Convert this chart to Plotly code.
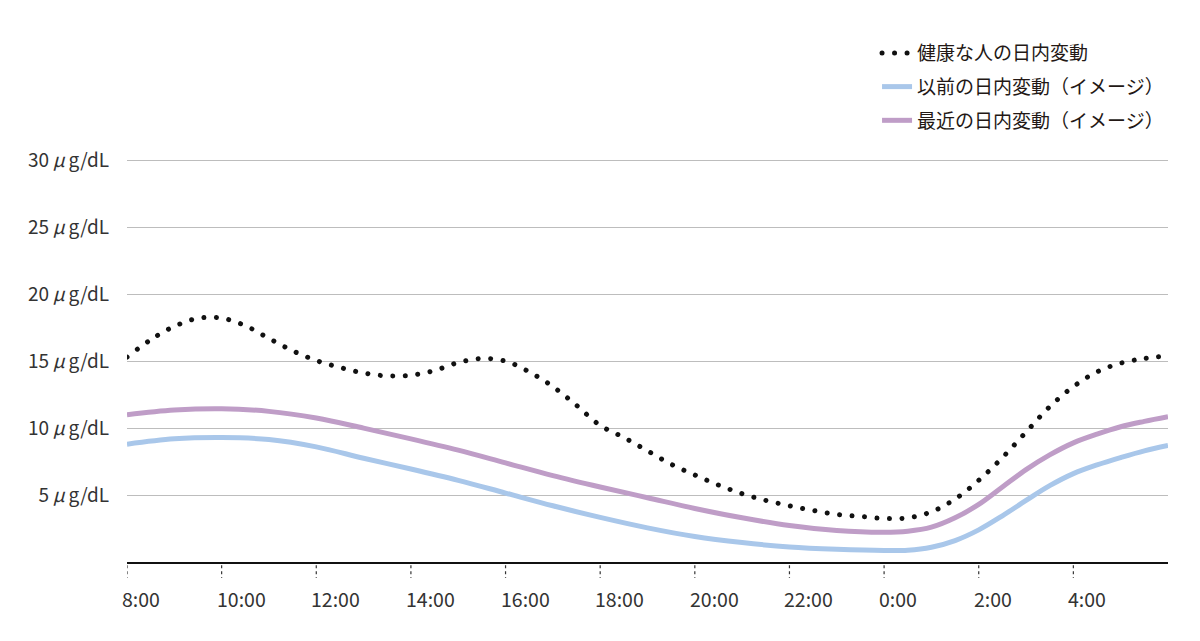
import plotly.graph_objects as go

# hours elapsed since 8:00
hours_h = [0, 0.5, 1, 1.5, 2, 2.5, 3, 3.5, 4, 4.5, 5, 5.5, 6, 6.5, 7, 7.5, 8, 8.5, 9, 9.5, 10,
           10.5, 11, 11.5, 12, 12.5, 13, 13.5, 14, 14.5, 15, 15.5, 16, 16.5, 17, 17.5, 18,
           18.5, 19, 19.5, 20, 20.5, 21, 21.5, 22]
healthy = [15.3, 16.6, 17.6, 18.2, 18.22, 17.65, 16.7, 15.78, 15.05, 14.53, 14.12, 13.9, 13.95,
           14.3, 14.9, 15.2, 15.0, 14.2, 13.1, 11.7, 10.2, 9.3, 8.3, 7.3, 6.5, 5.75, 5.1, 4.6,
           4.2, 3.85, 3.55, 3.4, 3.25, 3.3, 3.75, 4.7, 6.1, 7.8, 9.7, 11.6, 13.1, 14.2, 14.85,
           15.2, 15.4]

hours_p = [0, 1, 2, 3, 4, 5, 6, 7, 8, 9, 10, 11, 12, 13, 14, 15, 16, 16.5, 17, 17.5, 18,
           18.5, 19, 19.5, 20, 20.5, 21, 21.5, 22]
previous = [8.8, 9.2, 9.3, 9.15, 8.6, 7.75, 6.95, 6.1, 5.15, 4.2, 3.33, 2.55, 1.9, 1.45, 1.12,
            0.95, 0.86, 0.88, 1.1, 1.6, 2.4, 3.45, 4.6, 5.7, 6.6, 7.25, 7.8, 8.3, 8.7]
recent = [11.0, 11.35, 11.45, 11.25, 10.75, 10.0, 9.2, 8.35, 7.4, 6.45, 5.6, 4.8, 4.0, 3.3, 2.72,
          2.35, 2.22, 2.3, 2.6, 3.3, 4.3, 5.6, 6.9, 8.0, 8.9, 9.55, 10.1, 10.5, 10.85]

x_tickvals = [0, 2, 4, 6, 8, 10, 12, 14, 16, 18, 20]
x_ticktext = ["8:00", "10:00", "12:00", "14:00", "16:00", "18:00", "20:00", "22:00", "0:00", "2:00", "4:00"]
y_tickvals = [5, 10, 15, 20, 25, 30]
y_ticktext = ["5\u2009<i>μ</i>\u2009g/dL", "10\u2009<i>μ</i>\u2009g/dL", "15\u2009<i>μ</i>\u2009g/dL",
              "20\u2009<i>μ</i>\u2009g/dL", "25\u2009<i>μ</i>\u2009g/dL", "30\u2009<i>μ</i>\u2009g/dL"]

names = ["健康な人の日内変動", "以前の日内変動（イメージ）", "最近の日内変動（イメージ）"]
FONT = "Noto Sans CJK JP"

fig = go.Figure()
fig.add_trace(go.Scatter(x=hours_p, y=previous, mode="lines", name=names[1], legendgroup="b", legendrank=2,
                         line=dict(color="#a9c7ea", width=5, shape="spline", smoothing=1.0)))
fig.add_trace(go.Scatter(x=hours_p, y=recent, mode="lines", name=names[2], legendgroup="c", legendrank=3,
                         line=dict(color="#bf9dc7", width=5, shape="spline", smoothing=1.0)))
fig.add_trace(go.Scatter(x=hours_h, y=healthy, mode="lines", name=names[0], legendgroup="a", legendrank=1,
                         line=dict(color="#111111", width=5, shape="spline", smoothing=1.0, dash="5px,7px")))

# dotted tick marks under the axis and left-aligned time labels
for tv, tt in zip(x_tickvals, x_ticktext):
    fig.add_shape(type="line", xref="x", yref="paper", x0=tv, x1=tv, y0=-0.008, y1=-0.04,
                  line=dict(color="#333333", width=1.2, dash="dot"))
    fig.add_annotation(x=tv, y=-0.0918, xref="x", yref="paper", text=tt, showarrow=False,
                       xanchor="left", yanchor="middle", xshift=-7,
                       font=dict(size=19.5, family=FONT, color="#333333"))

fig.update_layout(
    width=1200, height=641,
    margin=dict(l=119, r=40, t=151, b=87),
    paper_bgcolor="white", plot_bgcolor="white",
    font=dict(family=FONT, size=19, color="#231815"),
    showlegend=True,
    legend=dict(x=0.7205, y=1.31, xanchor="left", yanchor="top", traceorder="grouped",
                bgcolor="rgba(0,0,0,0)", font=dict(size=19, family=FONT, color="#231815"),
                tracegroupgap=6),
    xaxis=dict(range=[0, 22], tickvals=x_tickvals, showticklabels=False, showgrid=False,
               showline=True, linecolor="#111111", linewidth=2, zeroline=False, ticks=""),
    yaxis=dict(range=[0, 30.1], tickvals=y_tickvals, ticktext=y_ticktext, showgrid=True,
               gridcolor="#bdbdbd", gridwidth=1, zeroline=False, showline=False,
               ticks="outside", ticklen=13, tickcolor="rgba(0,0,0,0)",
               tickfont=dict(size=19, family=FONT, color="#333333")),
)

post = """
var gd = document.getElementById('{plot_id}');
function roundDots(){
  var paths = gd.querySelectorAll('path.js-line, .legendlines path');
  paths.forEach(function(p){
    var da = p.style.strokeDasharray || '';
    if (da.indexOf('5px') >= 0) {
      p.style.strokeLinecap = 'round';
      p.style.strokeDasharray = '0.01px, 12.5px';
    }
  });
}
roundDots();
gd.on && gd.on('plotly_afterplot', roundDots);
"""
fig.write_html("out.html", post_script=post)
